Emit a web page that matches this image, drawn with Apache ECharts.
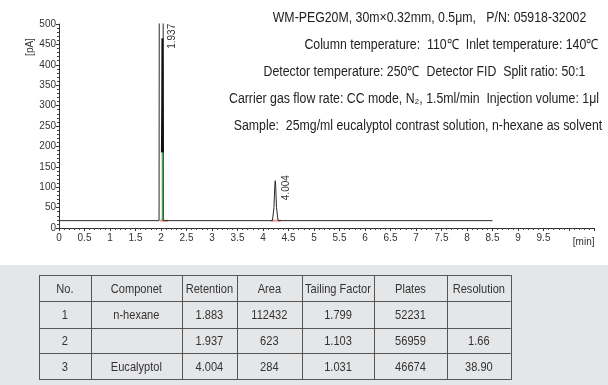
<!DOCTYPE html>
<html>
<head>
<meta charset="utf-8">
<script src="https://cdn.jsdelivr.net/npm/echarts@6/dist/echarts.min.js"></script>
<style>
  html, body { margin: 0; padding: 0; background: #fff; }
  #chart { width: 608px; height: 385px; }
</style>
</head>
<body>
<div id="chart"></div>
<script>
// chromatogram trace (min, pA)
var traceTime = [0, 1.962, 2.006, 2.046, 4.185, 4.215, 4.232, 4.24, 4.248, 4.265, 4.295, 8.5];
var traceSignal = [18, 18, 6000, 18, 18, 50, 105, 116, 105, 50, 18, 18];

// second overlapping peak (1.937)
var peak2Time = [2.018, 2.024, 2.028, 2.033, 2.038];
var peak2Signal = [185, 300, 465, 300, 185];

// peak split marker and integration baselines
var splitTime = [2.025, 2.025];
var splitSignal = [18, 184];
var integ1Time = [1.98, 2.14];
var integ2Time = [4.15, 4.35];
var integSignal = [18, 18];

// peak labels
var peakLabelTime = [2.028, 4.24];
var peakLabelSignal = [465, 116];
var peakLabelText = ['1.937', '4.004'];

var infoLines = [
  'WM-PEG20M, 30m×0.32mm, 0.5μm,   P/N: 05918-32002',
  'Column temperature:  110℃  Inlet temperature: 140℃',
  'Detector temperature: 250℃  Detector FID  Split ratio: 50:1',
  'Carrier gas flow rate: CC mode, N₂, 1.5ml/min  Injection volume: 1μl',
  'Sample:  25mg/ml eucalyptol contrast solution, n-hexane as solvent'
];

var tableHeader = ['No.', 'Componet', 'Retention', 'Area', 'Tailing Factor', 'Plates', 'Resolution'];
var tableRows = [
  ['1', 'n-hexane', '1.883', '112432', '1.799', '52231', ''],
  ['2', '', '1.937', '623', '1.103', '56959', '1.66'],
  ['3', 'Eucalyptol', '4.004', '284', '1.031', '46674', '38.90']
];

function pairs(xs, ys) {
  var out = [];
  for (var i = 0; i < xs.length; i++) out.push([xs[i], ys[i]]);
  return out;
}

var FONT = 'Liberation Sans, Arial, sans-serif';

var chart = echarts.init(document.getElementById('chart'));

// layout of the text block and table
var infoCenterX = [429.5, 451.5, 424.5, 414, 418];
var infoY = [18, 45, 72, 99, 126];
var colEdges = [39, 90.7, 182, 236.7, 302, 374, 447, 510.7];
var rowEdges = [275, 301, 328, 353, 379];

var graphics = [];
graphics.push({
  type: 'rect', z: -10, silent: true,
  shape: { x: 0, y: 265, width: 608, height: 120 },
  style: { fill: '#e5e6e8' }
});
infoLines.forEach(function (t, i) {
  graphics.push({
    type: 'text', x: infoCenterX[i], y: infoY[i], scaleX: 0.88,
    style: { text: t, font: '14px ' + FONT, fill: '#222', align: 'center', verticalAlign: 'middle' }
  });
});
graphics.push({
  type: 'text', x: 30, y: 47, rotation: Math.PI / 2,
  style: { text: '[pA]', font: '10px ' + FONT, fill: '#333', align: 'center', verticalAlign: 'middle' }
});

// table
rowEdges.forEach(function (y) {
  graphics.push({ type: 'line', shape: { x1: colEdges[0], y1: y + 0.5, x2: colEdges[colEdges.length - 1], y2: y + 0.5 }, style: { stroke: '#555', lineWidth: 1 } });
});
colEdges.forEach(function (x) {
  graphics.push({ type: 'line', shape: { x1: Math.round(x) + 0.5, y1: rowEdges[0], x2: Math.round(x) + 0.5, y2: rowEdges[rowEdges.length - 1] + 1 }, style: { stroke: '#555', lineWidth: 1 } });
});
[tableHeader].concat(tableRows).forEach(function (row, r) {
  row.forEach(function (cell, c) {
    graphics.push({
      type: 'text', scaleX: 0.82,
      x: (colEdges[c] + colEdges[c + 1]) / 2,
      y: (rowEdges[r] + rowEdges[r + 1]) / 2 + 1,
      style: { text: cell, font: '13.5px ' + FONT, fill: '#333', align: 'center', verticalAlign: 'middle' }
    });
  });
});

var option = {
  animation: false,
  grid: { left: 59, right: 13.5, top: 24, bottom: 157 },
  xAxis: {
    type: 'value', min: 0, max: 10.5, interval: 0.5,
    axisLine: { lineStyle: { color: '#333', width: 1 } },
    axisTick: { length: 3, lineStyle: { color: '#333' } },
    minorTick: { show: true, splitNumber: 5, length: 2, lineStyle: { color: '#444' } },
    splitLine: { show: false },
    axisLabel: {
      color: '#333', fontSize: 10, fontFamily: FONT, margin: 5,
      formatter: function (v) { return v <= 9.5 ? String(v) : ''; }
    }
  },
  yAxis: {
    type: 'value', min: 0, max: 500, interval: 50,
    axisLine: { show: true, lineStyle: { color: '#333', width: 1 } },
    axisTick: { show: true, length: 3, lineStyle: { color: '#333' } },
    minorTick: { show: true, splitNumber: 5, length: 2, lineStyle: { color: '#444' } },
    splitLine: { show: false },
    axisLabel: { color: '#333', fontSize: 10, fontFamily: FONT, margin: 3 }
  },
  series: [
    {
      type: 'line', data: pairs(integ1Time, integSignal), symbol: 'none', clip: true,
      lineStyle: { color: '#f29a9a', width: 2 }, z: 1
    },
    {
      type: 'line', data: pairs(integ2Time, integSignal), symbol: 'none', clip: true,
      lineStyle: { color: '#f29a9a', width: 2 }, z: 1
    },
    {
      type: 'line', data: pairs(traceTime, traceSignal), symbol: 'none', clip: true,
      lineStyle: { color: '#2a2a2a', width: 1 }, z: 3
    },
    {
      type: 'line', data: pairs(peak2Time, peak2Signal), symbol: 'none', clip: true,
      lineStyle: { color: '#111', width: 2 }, z: 4
    },
    {
      type: 'line', data: pairs(splitTime, splitSignal), symbol: 'none', clip: true,
      lineStyle: { color: '#2f8f3a', width: 1 }, z: 5
    }
  ],
  graphic: graphics
};
chart.setOption(option);

// peak labels and axis unit, placed through the axis scales
var extra = [];
var labelOffset = [[10, -2], [11, 7]];
peakLabelText.forEach(function (t, i) {
  var p = chart.convertToPixel({ gridIndex: 0 }, [peakLabelTime[i], peakLabelSignal[i]]);
  extra.push({
    type: 'text', x: p[0] + labelOffset[i][0], y: p[1] + labelOffset[i][1], rotation: Math.PI / 2,
    style: { text: t, font: '10px ' + FONT, fill: '#333', align: 'center', verticalAlign: 'middle' }
  });
});
var pEnd = chart.convertToPixel({ gridIndex: 0 }, [10.5, 0]);
extra.push({
  type: 'text', x: pEnd[0], y: pEnd[1] + 14,
  style: { text: '[min]', font: '10px ' + FONT, fill: '#333', align: 'right', verticalAlign: 'middle' }
});
chart.setOption({ graphic: graphics.concat(extra) });
</script>
</body>
</html>
